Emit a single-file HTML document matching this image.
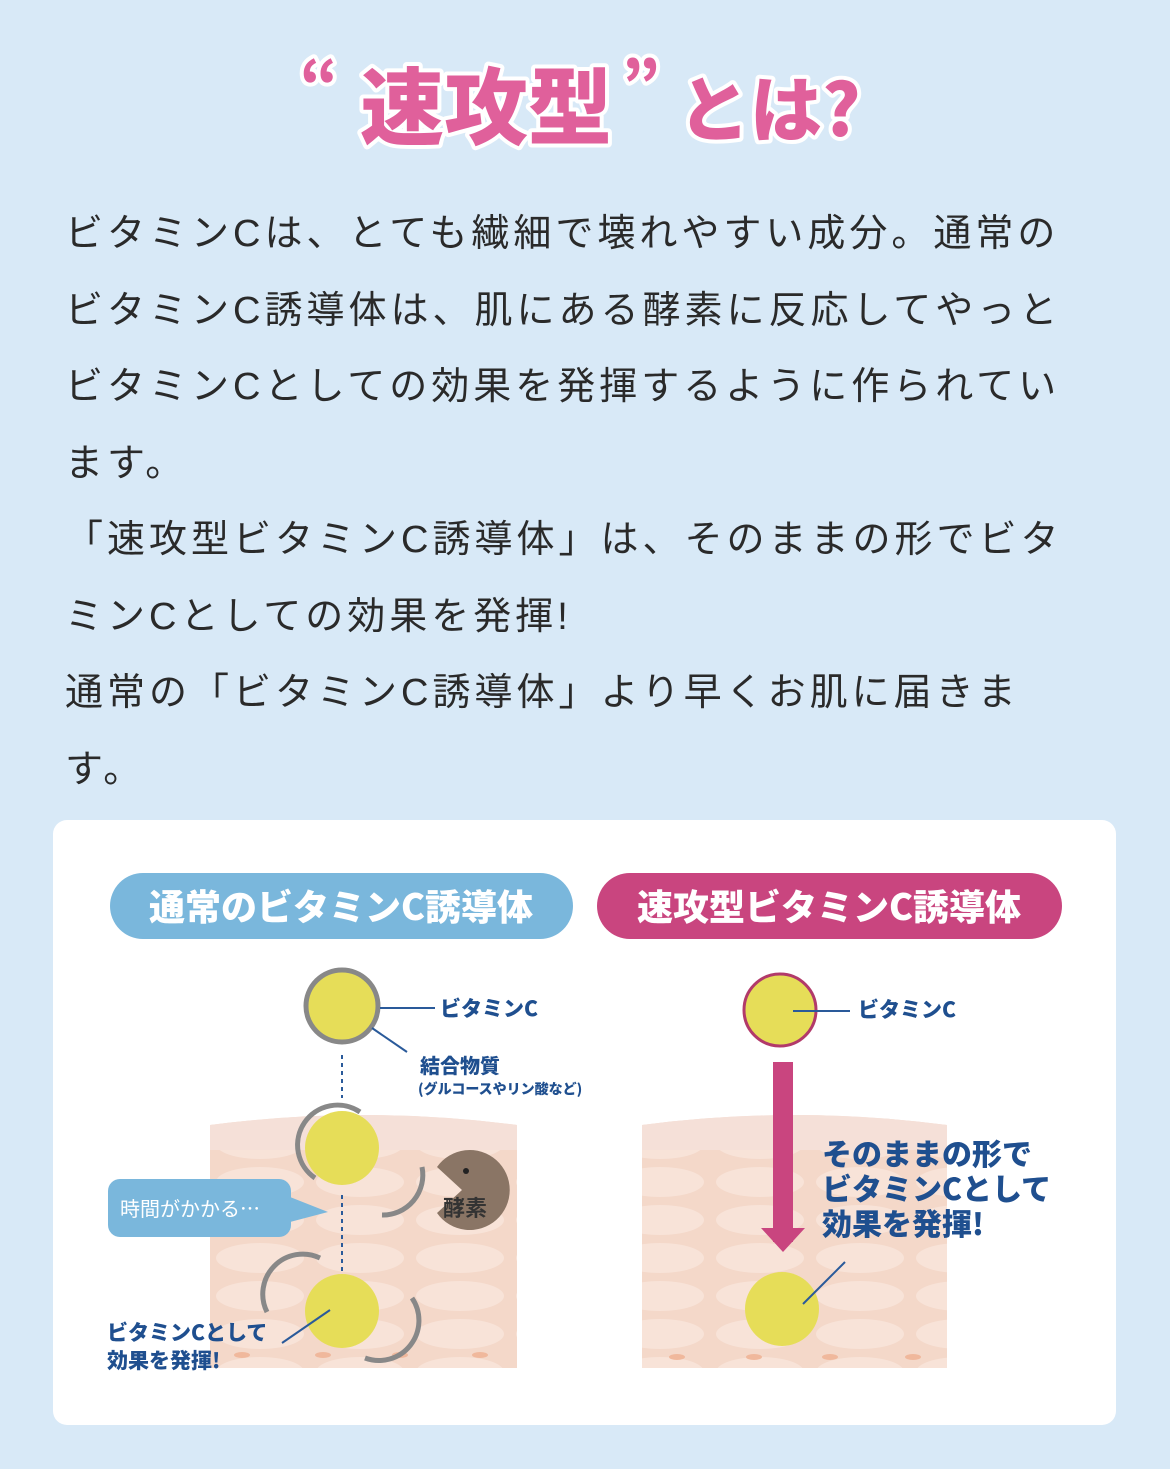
<!DOCTYPE html>
<html><head><meta charset="utf-8"><style>
html,body{margin:0;padding:0}
body{width:1170px;height:1469px;background:#d8e9f7;position:relative;overflow:hidden;font-family:"Liberation Sans","Noto Sans CJK JP",sans-serif}
.p{position:absolute;left:65px;top:196px;width:1060px;font-size:38px;line-height:76.5px;color:#2a2a2a;letter-spacing:4px;white-space:nowrap}
.card{position:absolute;left:53px;top:820px;width:1063px;height:605px;background:#fff;border-radius:14px}
svg{position:absolute;left:0;top:0}
</style></head><body>
<svg width="1170" height="1469" style="z-index:0">
<g font-family="'Noto Sans CJK JP',sans-serif" font-weight="900" fill="#e0609b" stroke="#fff" stroke-width="8" paint-order="stroke" stroke-linejoin="round">
<text x="300" y="105" font-size="60">“</text>
<text x="360" y="138" font-size="84">速攻型</text>
<text x="622" y="105" font-size="60">”</text>
<text x="678" y="136" font-size="72">とは?</text>
</g>
</svg>
<div class="p">ビタミンCは、とても繊細で壊れやすい成分。通常の<br>ビタミンC誘導体は、肌にある酵素に反応してやっと<br>ビタミンCとしての効果を発揮するように作られてい<br>ます。<br>「速攻型ビタミンC誘導体」は、そのままの形でビタ<br>ミンCとしての効果を発揮!<br>通常の「ビタミンC誘導体」より早くお肌に届きま<br>す。</div>
<div class="card"></div>
<svg width="1170" height="1469">
<defs>
<pattern id="cells" x="210" y="1125" width="100" height="38" patternUnits="userSpaceOnUse">
<rect width="100" height="38" fill="#f4d8c9"/>
<ellipse cx="50" cy="19" rx="44" ry="15" fill="#f8e3d8"/>
</pattern>
</defs>
<rect x="110" y="873" width="463" height="66" rx="33" fill="#7ab7dc"/>
<text x="341" y="920" font-size="36" font-weight="900" fill="#fff" text-anchor="middle" font-family="'Noto Sans CJK JP',sans-serif">通常のビタミンC誘導体</text>
<rect x="597" y="873" width="465" height="66" rx="33" fill="#c9457f"/>
<text x="829" y="920" font-size="36" font-weight="900" fill="#fff" text-anchor="middle" font-family="'Noto Sans CJK JP',sans-serif">速攻型ビタミンC誘導体</text>
<path d="M210 1125 Q363 1105 517 1125 V1368 H210Z" fill="url(#cells)"/>
<path d="M210 1125 Q363 1105 517 1125 V1150 H210Z" fill="#f5e0d8"/>
<path d="M642 1125 Q795 1105 947 1125 V1368 H642Z" fill="url(#cells)"/>
<path d="M642 1125 Q795 1105 947 1125 V1150 H642Z" fill="#f5e0d8"/>
<g fill="#f0b89c"><ellipse cx="242" cy="1355" rx="8" ry="3"/><ellipse cx="323" cy="1355" rx="8" ry="3"/><ellipse cx="400" cy="1355" rx="8" ry="3"/><ellipse cx="480" cy="1355" rx="8" ry="3"/>
<ellipse cx="677" cy="1357" rx="8" ry="3"/><ellipse cx="754" cy="1357" rx="8" ry="3"/><ellipse cx="830" cy="1357" rx="8" ry="3"/><ellipse cx="913" cy="1357" rx="8" ry="3"/></g>
<line x1="342" y1="1055" x2="342" y2="1098" stroke="#2a5a9a" stroke-width="2" stroke-dasharray="4,4"/>
<line x1="342" y1="1195" x2="342" y2="1272" stroke="#2a5a9a" stroke-width="2" stroke-dasharray="4,4"/>
<circle cx="342" cy="1006" r="36" fill="#e6dd58" stroke="#888" stroke-width="5"/>
<line x1="380" y1="1008" x2="435" y2="1008" stroke="#2a5a9a" stroke-width="2"/>
<line x1="372" y1="1028" x2="407" y2="1052" stroke="#2a5a9a" stroke-width="2"/>
<circle cx="342" cy="1148" r="37" fill="#e6dd58"/>
<path d="M315 1178 A38 38 0 0 1 360 1112" fill="none" stroke="#888" stroke-width="5"/>
<path d="M422 1167 A40 40 0 0 1 382 1215" fill="none" stroke="#888" stroke-width="5"/>
<path d="M437 1167 A40 40 0 1 1 437 1213 L462 1190 Z" fill="#8a7565"/>
<circle cx="466" cy="1171" r="3" fill="#222"/>
<text x="443" y="1216" font-size="22" font-weight="700" fill="#333" font-family="'Noto Sans CJK JP',sans-serif">酵素</text>
<rect x="108" y="1179" width="183" height="58" rx="12" fill="#7ab7dc"/>
<path d="M290 1197 L328 1212 L290 1222Z" fill="#7ab7dc"/>
<text x="120" y="1216" font-size="20" fill="#fff" font-family="'Noto Sans CJK JP',sans-serif">時間がかかる…</text>
<circle cx="342" cy="1311" r="37" fill="#e6dd58"/>
<path d="M267 1312 A40 40 0 0 1 320 1258" fill="none" stroke="#888" stroke-width="5"/>
<path d="M412 1298 A40 40 0 0 1 365 1358" fill="none" stroke="#888" stroke-width="5"/>
<line x1="330" y1="1310" x2="282" y2="1343" stroke="#2a5a9a" stroke-width="2"/>
<g font-family="'Noto Sans CJK JP',sans-serif" font-weight="900" fill="#1f4f8f">
<text x="440" y="1016" font-size="21">ビタミンC</text>
<text x="420" y="1073" font-size="20">結合物質</text>
<text x="418" y="1094" font-size="14">(グルコースやリン酸など)</text>
<text x="107" y="1340" font-size="21">ビタミンCとして</text>
<text x="107" y="1368" font-size="21">効果を発揮!</text>
<text x="858" y="1017" font-size="21">ビタミンC</text>
<text x="822" y="1165" font-size="30">そのままの形で</text>
<text x="822" y="1200" font-size="30">ビタミンCとして</text>
<text x="822" y="1235" font-size="30">効果を発揮!</text>
</g>
<circle cx="780" cy="1010" r="36" fill="#e6dd58" stroke="#b23a6a" stroke-width="3"/>
<line x1="793" y1="1011" x2="850" y2="1011" stroke="#2a5a9a" stroke-width="2"/>
<rect x="773" y="1062" width="20" height="180" fill="#c9457f"/>
<path d="M761 1228 L805 1228 L783 1252Z" fill="#c9457f"/>
<circle cx="782" cy="1309" r="37" fill="#e6dd58"/>
<line x1="803" y1="1304" x2="845" y2="1262" stroke="#2a5a9a" stroke-width="2"/>
</svg>
</body></html>
